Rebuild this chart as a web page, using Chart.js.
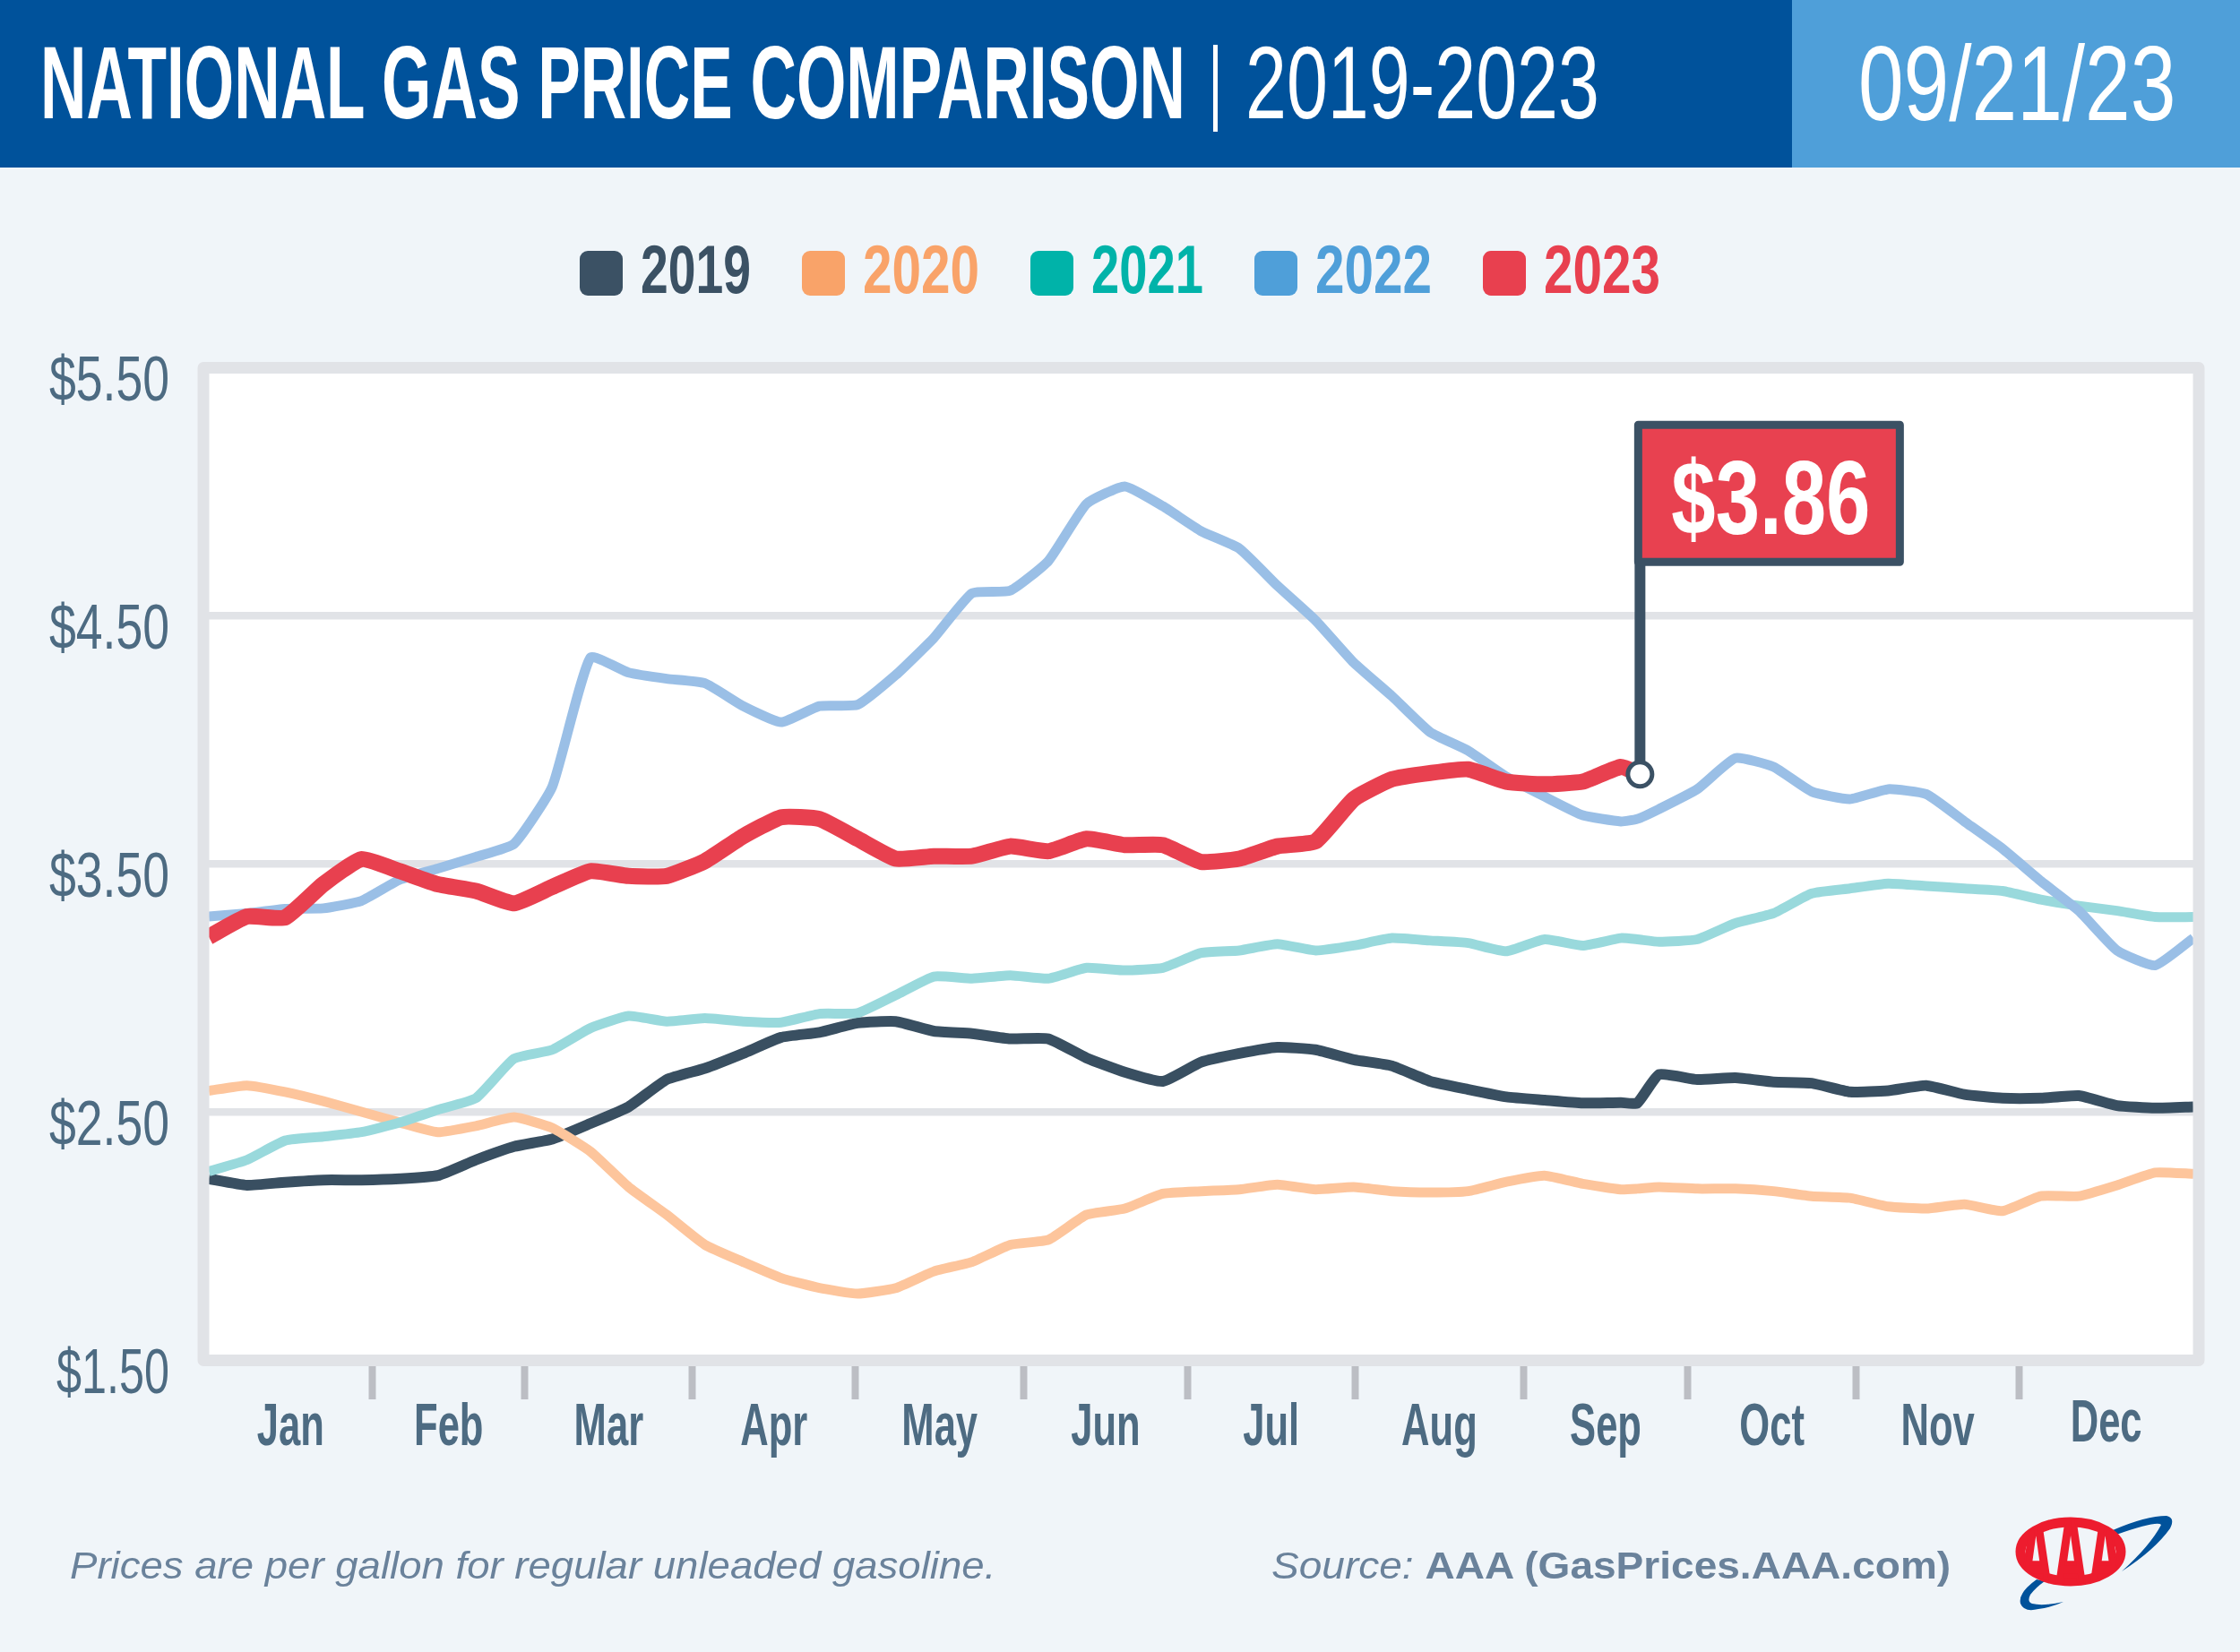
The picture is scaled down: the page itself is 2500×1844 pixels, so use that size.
<!DOCTYPE html>
<html>
<head>
<meta charset="utf-8">
<title>National Gas Price Comparison</title>
<script src="https://cdn.jsdelivr.net/npm/chart.js@4"></script>
<style>
  html, body { margin: 0; padding: 0; background: #f0f5f9; }
  #page { position: relative; width: 2500px; height: 1844px; overflow: hidden; font-family: 'Liberation Sans', sans-serif; }
  #grafico { position: absolute; left: 0; top: 0; }
  .faixa { position: absolute; top: 0; height: 187px; }
  #faixa-titulo { left: 0; width: 2000px; background: #00529b; }
  #faixa-data { left: 2000px; width: 500px; background: #4f9fd9; }
  .cab { position: absolute; color: #fff; white-space: nowrap; transform-origin: left center; font-size: 115px; line-height: 130px; top: 27px; }
  #titulo { left: 45px; font-weight: bold; }
  #barra { left: 1354px; top: 50px; width: 5px; height: 97px; background: #fff; }
  #anos { left: 1390px; }
  #data { left: 2074px; top: 28px; font-size: 118px; }
  #legenda { position: absolute; left: 0; top: 266px; width: 2500px; display: flex; justify-content: center; align-items: center; height: 70px; }
  .item { display: flex; align-items: center; margin: 0 28.5px; }
  .caixa { width: 48px; height: 50px; border-radius: 9px; margin: 8px 20px 0 0; }
  .rotulo { font-size: 76px; font-weight: bold; line-height: 70px; transform-origin: left center; white-space: nowrap; }
  .nota { position: absolute; top: 1722px; font-style: italic; font-size: 43px; line-height: 50px; color: #6a829b; white-space: nowrap; transform-origin: left center; }
  .nota b { font-style: normal; }
  #logo { position: absolute; left: 0; top: 0; }
</style>
</head>
<body>
<div id="page">
  <canvas id="grafico" width="2500" height="1844"></canvas>
  <div class="faixa" id="faixa-titulo"></div>
  <div class="faixa" id="faixa-data"></div>
  <div class="cab" id="titulo">NATIONAL GAS PRICE COMPARISON</div>
  <div class="cab" id="barra"></div>
  <div class="cab" id="anos">2019-2023</div>
  <div class="cab" id="data">09/21/23</div>
  <div id="legenda"></div>
  <div class="nota" id="nota1" style="left:78px">Prices are per gallon for regular unleaded gasoline.</div>
  <div class="nota" id="nota2" style="left:1419px">Source: <b>AAA (GasPrices.AAA.com)</b></div>
  <svg id="logo" width="2500" height="1844" viewBox="0 0 2500 1844">
    <defs><clipPath id="oval"><ellipse cx="2311" cy="1732" rx="58" ry="36"/></clipPath></defs>
    <path fill="#00529b" d="M2358 1708 Q2395 1692 2418 1692 Q2428 1694 2422 1706 Q2405 1730 2368 1754 Q2400 1725 2412 1702 Q2408 1697 2362 1713 Z"/>
    <path fill="#00529b" d="M2273 1763 Q2252 1778 2255 1790 Q2259 1800 2275 1796 Q2290 1794 2303 1788 Q2280 1793 2268 1790 Q2262 1788 2266 1780 Q2272 1772 2282 1765 Z"/>
    <ellipse cx="2311" cy="1732" rx="56" ry="33" fill="#f0f5f9" stroke="#ed1c2e" stroke-width="11"/>
    <text clip-path="url(#oval)" x="2311" y="1782" text-anchor="middle" textLength="116" lengthAdjust="spacingAndGlyphs" font-family="Liberation Sans" font-weight="bold" font-size="132" fill="#ed1c2e" stroke="#ed1c2e" stroke-width="5">AAA</text>
  </svg>
</div>
<script>
  // dados, um ponto por semana
  const dias = [0,7,14,21,28,35,42,49,56,63,70,77,84,91,98,105,112,119,126,133,140,147,154,161,168,175,182,189,196,203,210,217,224,231,238,245,252,259,262,266,273,280,287,294,301,308,315,322,329,336,343,350,357,364];
  const dias2023 = [0,7,14,21,28,35,42,49,56,63,70,77,84,91,98,105,112,119,126,133,140,147,154,161,168,175,182,189,196,203,210,217,224,231,238,245,252,259,262.5];

  const precos2019 = [2.23,2.204,2.216,2.225,2.225,2.23,2.243,2.306,2.36,2.39,2.453,2.52,2.63,2.675,2.735,2.80,2.82,2.858,2.864,2.825,2.815,2.794,2.794,2.717,2.66,2.623,2.70,2.735,2.76,2.75,2.71,2.685,2.623,2.59,2.56,2.547,2.535,2.537,2.535,2.65,2.63,2.637,2.62,2.615,2.58,2.585,2.606,2.57,2.555,2.555,2.565,2.525,2.515,2.52];
  const precos2020 = [2.585,2.606,2.58,2.543,2.50,2.457,2.418,2.443,2.478,2.435,2.34,2.197,2.085,1.964,1.895,1.83,1.79,1.767,1.79,1.857,1.895,1.964,1.984,2.085,2.11,2.17,2.18,2.187,2.207,2.187,2.197,2.18,2.175,2.18,2.218,2.243,2.21,2.187,2.19,2.197,2.19,2.19,2.18,2.16,2.153,2.118,2.11,2.127,2.10,2.16,2.16,2.204,2.255,2.25];
  const precos2021 = [2.26,2.306,2.384,2.40,2.418,2.457,2.508,2.555,2.714,2.75,2.837,2.886,2.864,2.877,2.864,2.86,2.895,2.898,2.97,3.045,3.037,3.05,3.037,3.08,3.07,3.08,3.14,3.15,3.176,3.15,3.17,3.20,3.19,3.18,3.147,3.195,3.17,3.20,3.195,3.185,3.195,3.26,3.30,3.38,3.40,3.42,3.41,3.40,3.39,3.355,3.33,3.31,3.285,3.285];
  const precos2022 = [3.287,3.30,3.318,3.32,3.35,3.435,3.48,3.527,3.58,3.81,4.33,4.27,4.245,4.227,4.135,4.07,4.135,4.14,4.26,4.41,4.59,4.60,4.72,4.95,5.02,4.94,4.84,4.77,4.62,4.48,4.31,4.175,4.03,3.955,3.85,3.77,3.695,3.67,3.68,3.72,3.80,3.925,3.89,3.79,3.76,3.80,3.78,3.67,3.56,3.43,3.31,3.15,3.09,3.20];
  const precos2023 = [3.205,3.287,3.283,3.417,3.518,3.47,3.417,3.39,3.34,3.406,3.47,3.45,3.45,3.51,3.61,3.687,3.68,3.60,3.52,3.53,3.53,3.57,3.55,3.60,3.575,3.575,3.507,3.52,3.57,3.59,3.76,3.84,3.865,3.88,3.83,3.82,3.83,3.89,3.86];

  const anos = ['2019', '2020', '2021', '2022', '2023'];
  const coresLegenda = ['#3b5164', '#f9a369', '#00b3a9', '#4f9fd9', '#e8404f'];
  const coresLinha = ['#394f61', '#fdc59c', '#99d9dc', '#9abfe6', '#e8404f'];
  const espessuras = [12, 11, 11, 11, 18];

  const meses = ['Jan','Feb','Mar','Apr','May','Jun','Jul','Aug','Sep','Oct','Nov','Dec'];
  const iniciosMes = [0,30,58,88.7,118.6,149.5,179.5,210.2,241.2,271.2,302.2,332,364];
  const ticksPreco = [1.5, 2.5, 3.5, 4.5, 5.5];
  const precoAtual = 3.86;

  const pares = (xs, ys) => ys.map((y, i) => ({ x: xs[i], y: y }));
  const series = [pares(dias, precos2019), pares(dias, precos2020), pares(dias, precos2021), pares(dias, precos2022), pares(dias2023, precos2023)];

  // espreme o texto na largura da arte original (a fonte condensada nao existe aqui)
  function ajustaLargura(el, largura) {
    const w = el.offsetWidth;
    el.style.transform = 'scaleX(' + (largura / w) + ')';
    return largura - w;
  }

  // legenda em html, feita a partir das mesmas listas
  const larguraRotulo = [123, 130, 125, 130, 130];
  const legenda = document.getElementById('legenda');
  anos.forEach((ano, i) => {
    const item = document.createElement('div');
    item.className = 'item';
    item.innerHTML = '<div class="caixa" style="background:' + coresLegenda[i] + '"></div><div class="rotulo" style="color:' + coresLegenda[i] + '">' + ano + '</div>';
    legenda.appendChild(item);
    const r = item.querySelector('.rotulo');
    r.style.marginRight = ajustaLargura(r, larguraRotulo[i]) + 'px';
  });
  ajustaLargura(document.getElementById('titulo'), 1278);
  ajustaLargura(document.getElementById('anos'), 395);
  ajustaLargura(document.getElementById('data'), 354);
  ajustaLargura(document.getElementById('nota1'), 1033);
  ajustaLargura(document.getElementById('nota2'), 758);

  const corMoldura = '#e1e3e7';
  const corEscura = '#3b5164';
  const corEixo = '#4d6b82';
  const fonteBase = '"Liberation Sans", sans-serif';

  const fundoBranco = {
    id: 'fundoBranco',
    beforeDraw(chart) {
      const a = chart.chartArea;
      chart.ctx.fillStyle = '#fff';
      chart.ctx.fillRect(a.left, a.top, a.right - a.left, a.bottom - a.top);
    }
  };

  // moldura por cima das linhas e a bandeirinha com o preco atual
  const molduraBandeira = {
    id: 'molduraBandeira',
    afterDatasetsDraw(chart) {
      const ctx = chart.ctx;
      const a = chart.chartArea;
      ctx.save();
      ctx.strokeStyle = corMoldura;
      ctx.lineWidth = 13;
      ctx.lineJoin = 'round';
      ctx.strokeRect(a.left - 6, a.top + 0.5, a.right - a.left + 12, a.bottom - a.top);

      const px = chart.scales.x.getPixelForValue(dias2023[dias2023.length - 1]);
      const py = chart.scales.y.getPixelForValue(precoAtual);
      const topo = py - 390;
      ctx.strokeStyle = corEscura;
      ctx.lineWidth = 12;
      ctx.beginPath();
      ctx.moveTo(px, py);
      ctx.lineTo(px, topo);
      ctx.stroke();

      ctx.fillStyle = '#e84150';
      ctx.lineWidth = 9;
      ctx.fillRect(px - 2, topo, 292, 153);
      ctx.strokeRect(px - 2, topo, 292, 153);

      ctx.fillStyle = '#fff';
      ctx.beginPath();
      ctx.arc(px, py, 13.5, 0, Math.PI * 2);
      ctx.fill();
      ctx.lineWidth = 5;
      ctx.stroke();

      ctx.font = 'bold 116px ' + fonteBase;
      ctx.fillStyle = '#fff';
      ctx.textBaseline = 'alphabetic';
      const texto = '$' + precoAtual.toFixed(2);
      ctx.fillText(texto, px + 35, topo + 122, 222);
      ctx.restore();
    }
  };

  // rotulos dos eixos: mesmos ticks da escala, so que estreitados com o maxWidth do fillText
  const rotulosEixos = {
    id: 'rotulosEixos',
    afterDraw(chart) {
      const ctx = chart.ctx;
      const { x, y } = chart.scales;
      ctx.save();
      ctx.textBaseline = 'alphabetic';
      ctx.fillStyle = corEixo;

      ctx.textAlign = 'center';
      ctx.font = 'bold 66px ' + fonteBase;
      x.ticks.forEach(t => {
        if (!t.label) return;
        const sobe = t.label === 'Dec' ? 4 : 0;
        ctx.fillText(t.label, x.getPixelForValue(t.value), chart.chartArea.bottom + 95 - sobe, ctx.measureText(t.label).width * 0.66);
      });

      ctx.textAlign = 'right';
      ctx.font = '71px ' + fonteBase;
      y.ticks.forEach(t => {
        ctx.fillText(t.label, 189, y.getPixelForValue(t.value) + 37, t.value === 1.5 ? 126 : 134);
      });
      ctx.restore();
    }
  };

  const centrosMes = meses.map((m, i) => (iniciosMes[i] + iniciosMes[i + 1]) / 2);

  new Chart(document.getElementById('grafico'), {
    type: 'line',
    data: {
      datasets: anos.map((ano, i) => ({
        label: ano,
        data: series[i],
        borderColor: coresLinha[i],
        borderWidth: espessuras[i],
        pointRadius: 0,
        tension: 0.15,
        borderCapStyle: 'butt',
        order: anos.length - i
      }))
    },
    options: {
      responsive: false,
      animation: false,
      devicePixelRatio: 1,
      layout: { padding: { top: 410, right: 52, left: 0, bottom: 0 } },
      plugins: { legend: { display: false }, tooltip: { enabled: false } },
      scales: {
        x: {
          type: 'linear',
          min: 0,
          max: 364,
          border: { display: false },
          afterBuildTicks(scale) {
            const marcas = iniciosMes.slice(1, -1);
            scale.ticks = marcas.concat(centrosMes).sort((a, b) => a - b).map(v => ({ value: v }));
          },
          afterFit(scale) { scale.height = 326; },
          grid: {
            drawOnChartArea: false,
            tickLength: 44,
            tickWidth: 8,
            tickColor: c => centrosMes.includes(c.tick.value) ? 'rgba(0,0,0,0)' : '#bcbec4'
          },
          ticks: {
            display: false,
            autoSkip: false,
            callback: v => { const i = centrosMes.indexOf(v); return i >= 0 ? meses[i] : ''; }
          }
        },
        y: {
          min: 1.5,
          max: 5.5,
          border: { display: false },
          afterBuildTicks(scale) { scale.ticks = ticksPreco.map(v => ({ value: v })); },
          afterFit(scale) { scale.width = 233; },
          grid: { color: corMoldura, lineWidth: 8.5, drawTicks: false },
          ticks: {
            display: false,
            callback: v => '$' + v.toFixed(2)
          }
        }
      }
    },
    plugins: [fundoBranco, molduraBandeira, rotulosEixos]
  });
</script>
</body>
</html>
